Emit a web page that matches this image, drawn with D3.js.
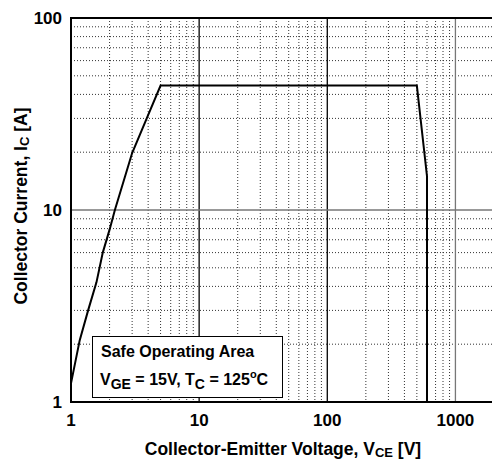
<!DOCTYPE html>
<html lang="en">
<head>
    <meta charset="UTF-8">
    <title>Safe Operating Area</title>
    <script src="https://d3js.org/d3.v7.min.js"></script>
    <style>
        body { margin: 0; background: #fff; }
        svg text { font-family: "Liberation Sans", Arial, sans-serif; font-weight: bold; fill: #000; }
    </style>
</head>
<body>
    <div id="chart"></div>
    <script>
        // SOA boundary
        const vce = [1, 1.17, 1.36, 1.58, 1.77, 2.0, 2.2, 3.0, 3.9, 5, 500, 600, 600];
        const ic  = [1.25, 2.1, 3.0, 4.2, 6.0, 7.9, 10, 19.8, 30, 44.5, 44.5, 15, 1];

        const xTicks = [1, 10, 100, 1000];
        const yTicks = [1, 10, 100];

        const W = 492, H = 463;
        const margin = {top: 18, right: -2, bottom: 61, left: 71};

        const svg = d3.select("#chart").append("svg")
            .attr("width", W).attr("height", H);

        const x = d3.scaleLog().domain([1, 2000]).range([margin.left, W - margin.right]);
        const y = d3.scaleLog().domain([1, 100]).range([H - margin.bottom, margin.top]);

        const x0 = x.range()[0], x1 = x.range()[1];
        const y0 = y.range()[0], y1 = y.range()[1];

        // minor grid
        const xMinor = [], yMinor = [];
        [1, 10, 100, 1000].forEach(d => {
            for (let k = 2; k <= 9; k++) if (d * k <= 2000) xMinor.push(d * k);
        });
        [1, 10].forEach(d => { for (let k = 2; k <= 9; k++) yMinor.push(d * k); });

        const grid = svg.append("g");
        grid.selectAll(".vx").data(xMinor).enter().append("line")
            .attr("x1", d => x(d)).attr("x2", d => x(d))
            .attr("y1", y1).attr("y2", y0)
            .attr("stroke", "#333").attr("stroke-width", 1)
            .attr("stroke-dasharray", "1,2");
        grid.selectAll(".hy").data(yMinor).enter().append("line")
            .attr("y1", d => y(d)).attr("y2", d => y(d))
            .attr("x1", x0).attr("x2", x1)
            .attr("stroke", "#333").attr("stroke-width", 1)
            .attr("stroke-dasharray", "1,2");

        // major grid
        grid.selectAll(".vmaj").data([10, 100, 1000]).enter().append("line")
            .attr("x1", d => x(d)).attr("x2", d => x(d))
            .attr("y1", y1).attr("y2", y0)
            .attr("stroke", d => d === 1000 ? "#777" : "#000").attr("stroke-width", 1.3);
        grid.append("line")
            .attr("x1", x0).attr("x2", x1)
            .attr("y1", y(10)).attr("y2", y(10))
            .attr("stroke", "#777").attr("stroke-width", 1.3);

        // frame
        svg.append("rect")
            .attr("x", x0).attr("y", y1)
            .attr("width", x1 - x0).attr("height", y0 - y1)
            .attr("fill", "none").attr("stroke", "#000").attr("stroke-width", 2);

        // SOA curve
        const pts = vce.map((v, i) => [x(v), y(ic[i])]);
        svg.append("path")
            .attr("d", d3.line()(pts))
            .attr("fill", "none").attr("stroke", "#000").attr("stroke-width", 2)
            .attr("stroke-linejoin", "miter");

        // tick labels
        svg.selectAll(".xt").data(xTicks).enter().append("text")
            .attr("x", d => x(d)).attr("y", y0 + 24)
            .attr("text-anchor", "middle").attr("font-size", 17)
            .text(d => d);
        svg.selectAll(".yt").data(yTicks).enter().append("text")
            .attr("x", x0 - 9).attr("y", d => y(d) + 6)
            .attr("text-anchor", "end").attr("font-size", 17)
            .text(d => d);

        // axis titles
        const xl = svg.append("text")
            .attr("x", 283).attr("y", 455)
            .attr("text-anchor", "middle").attr("font-size", 17.5);
        xl.append("tspan").text("Collector-Emitter Voltage, V");
        xl.append("tspan").attr("font-size", 13).attr("dy", 2).text("CE");
        xl.append("tspan").attr("dy", -2).text(" [V]");

        const yl = svg.append("text")
            .attr("transform", "translate(27,206) rotate(-90)")
            .attr("text-anchor", "middle").attr("font-size", 17.5);
        yl.append("tspan").text("Collector Current, I");
        yl.append("tspan").attr("font-size", 13).attr("dy", 2).text("C");
        yl.append("tspan").attr("dy", -2).text(" [A]");

        // legend box
        const lg = svg.append("g");
        lg.append("rect")
            .attr("x", 92.5).attr("y", 336.5).attr("width", 190).attr("height", 61)
            .attr("fill", "#fff").attr("stroke", "#000").attr("stroke-width", 1);
        lg.append("text").attr("x", 101).attr("y", 357).attr("font-size", 16)
            .text("Safe Operating Area");
        const l2 = lg.append("text").attr("x", 100).attr("y", 385).attr("font-size", 16);
        l2.append("tspan").text("V");
        l2.append("tspan").attr("dy", 4).attr("font-size", 14).text("GE");
        l2.append("tspan").attr("dy", -4).text(" = 15V, T");
        l2.append("tspan").attr("dy", 4).attr("font-size", 14).text("C");
        l2.append("tspan").attr("dy", -4).text(" = 125");
        l2.append("tspan").attr("dy", -7).attr("font-size", 11).text("o");
        l2.append("tspan").attr("dy", 7).text("C");
    </script>
</body>
</html>
